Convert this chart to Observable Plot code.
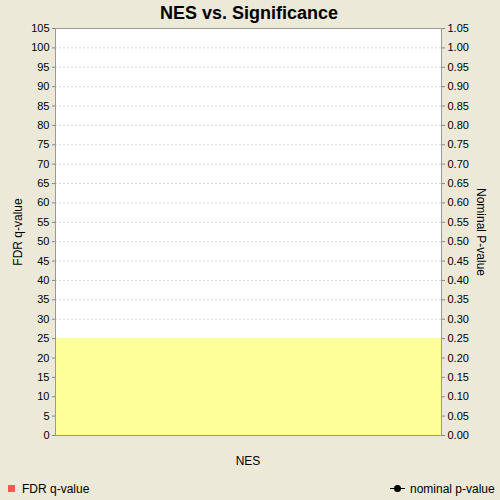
<!DOCTYPE html>
<html><head><meta charset="utf-8">
<script src="https://cdn.jsdelivr.net/npm/d3@7"></script>
<script src="https://cdn.jsdelivr.net/npm/@observablehq/plot@0.6"></script>
<style>
html,body{margin:0;padding:0;background:#ECE9D8;}
#wrap{position:relative;width:500px;height:500px;background:#ECE9D8;font-family:"Liberation Sans",Arial,sans-serif;overflow:hidden;}
#wrap svg{position:absolute;left:0;top:0;background:transparent;}
.t{position:absolute;white-space:nowrap;color:#000;}
</style></head>
<body><div id="wrap"></div>
<script>
const title = "NES vs. Significance";
const xLabel = "NES";
const yLeftLabel = "FDR q-value";
const yRightLabel = "Nominal P-value";
const leftTicks = [0,5,10,15,20,25,30,35,40,45,50,55,60,65,70,75,80,85,90,95,100,105];
const rightTickLabels = ["0.00","0.05","0.10","0.15","0.20","0.25","0.30","0.35","0.40","0.45","0.50","0.55","0.60","0.65","0.70","0.75","0.80","0.85","0.90","0.95","1.00","1.05"];
const fdrThreshold = [25];
const legendItems = ["FDR q-value","nominal p-value"];

const yDomain = [0,105];
const xDomain = [0,1];
const rightMap = new Map(leftTicks.map((t,i)=>[t,rightTickLabels[i]]));

const chart = Plot.plot({
  width:500, height:500,
  marginLeft:55, marginRight:59, marginTop:28, marginBottom:65,
  style:{background:"transparent", fontFamily:"'Liberation Sans', Arial, sans-serif", fontSize:"11px", color:"#000"},
  x:{domain:xDomain, axis:null},
  y:{domain:yDomain, axis:null},
  marks:[
    Plot.frame({fill:"white", stroke:"none"}),
    Plot.ruleY(leftTicks, {stroke:"#d8d8d8", strokeDasharray:"2,2", strokeWidth:1}),
    Plot.rect(fdrThreshold, {x1:xDomain[0], x2:xDomain[1], y1:0, y2:d=>d, fill:"#FFFF99"}),
    Plot.frame({stroke:"#999", strokeWidth:1}),
    Plot.axisY(leftTicks, {anchor:"left", tickSize:3, tickPadding:3, stroke:"#888", fill:"#000", fontSize:11, label:null}),
    Plot.axisY(leftTicks, {anchor:"right", tickSize:3, tickPadding:3, stroke:"#888", fill:"#000", fontSize:11, label:null, tickFormat:d=>rightMap.get(d)})
  ]
});
const wrap = document.getElementById("wrap");
wrap.appendChild(chart);

function addText(txt, css){
  const d=document.createElement("div"); d.className="t"; d.textContent=txt;
  Object.assign(d.style, css); wrap.appendChild(d); return d;
}
addText(title,{left:"0",width:"498px",textAlign:"center",top:"2px",fontSize:"18px",fontWeight:"bold",lineHeight:"22px"});
addText(xLabel,{left:"55px",width:"386px",textAlign:"center",top:"454px",fontSize:"12px",lineHeight:"14px"});
addText(yLeftLabel,{left:"18px",top:"232px",fontSize:"12px",lineHeight:"14px",transform:"translate(-50%,-50%) rotate(-90deg)"});
addText(yRightLabel,{left:"481px",top:"232px",fontSize:"12px",lineHeight:"14px",transform:"translate(-50%,-50%) rotate(90deg)"});

// legend
const sq=document.createElement("div");
Object.assign(sq.style,{position:"absolute",left:"8px",top:"485px",width:"7px",height:"7px",background:"#FF5555"});
wrap.appendChild(sq);
addText(legendItems[0],{left:"22px",top:"482px",fontSize:"12px",lineHeight:"14px"});
const ln=document.createElement("div");
Object.assign(ln.style,{position:"absolute",left:"390px",top:"488px",width:"15px",height:"1px",background:"#000"});
wrap.appendChild(ln);
const dot=document.createElement("div");
Object.assign(dot.style,{position:"absolute",left:"394px",top:"485px",width:"7px",height:"7px",borderRadius:"50%",background:"#000"});
wrap.appendChild(dot);
addText(legendItems[1],{left:"410px",top:"482px",fontSize:"12px",lineHeight:"14px"});
</script></body></html>
